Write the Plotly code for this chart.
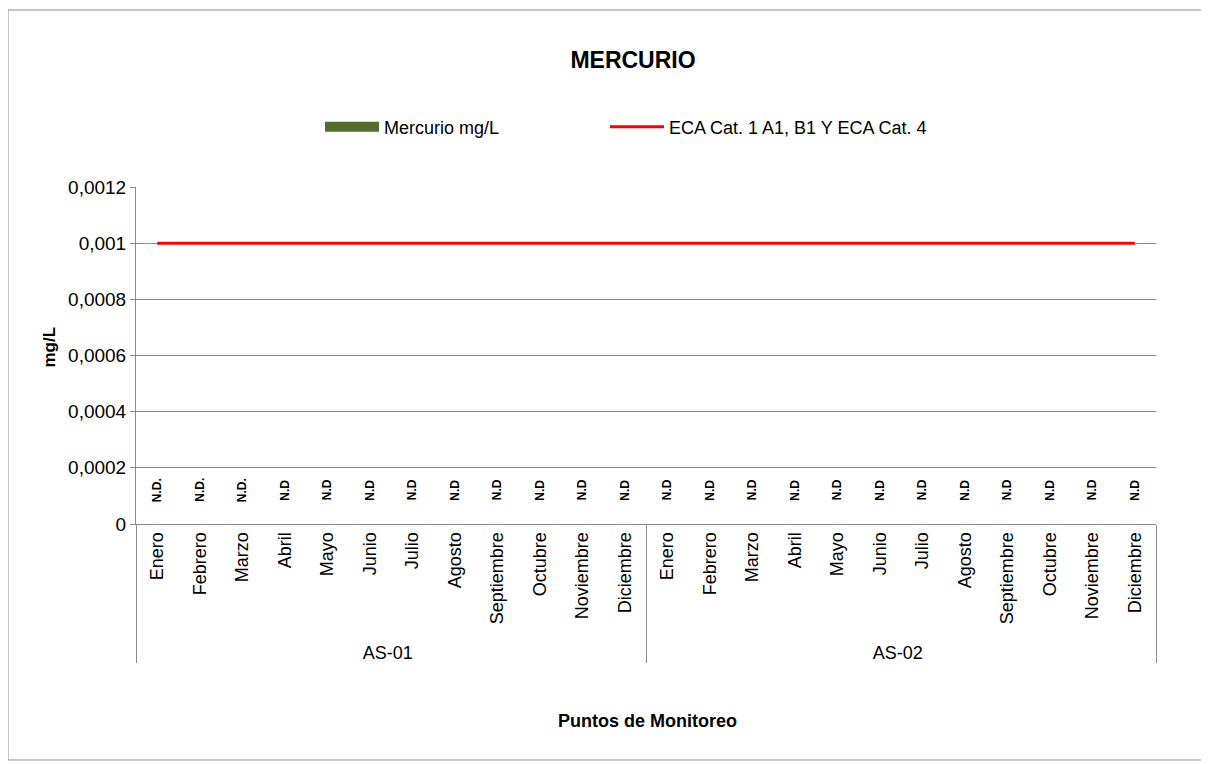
import plotly.graph_objects as go

months = ["Enero", "Febrero", "Marzo", "Abril", "Mayo", "Junio", "Julio", "Agosto",
          "Septiembre", "Octubre", "Noviembre", "Diciembre"]
points = ["AS-01", "AS-02"]
mercurio = [0] * 24
eca = [0.001] * 24
nd_labels = (["N.D."] * 3 + ["N.D"] * 9) + ["N.D"] * 12
y_ticks = [0, 0.0002, 0.0004, 0.0006, 0.0008, 0.001, 0.0012]
y_ticktext = ["0", "0,0002", "0,0004", "0,0006", "0,0008", "0,001", "0,0012"]

x_outer = [p for p in points for _ in months]
x_inner = [m for _ in points for m in months]

FONT = "Liberation Sans, Arial, sans-serif"
OFF = 8  # page body margin
W, H = 1209 - OFF, 765 - OFF
L, R, T, B = 136 - OFF, 1156 - OFF, 187 - OFF, 524 - OFF
pw, ph = R - L, B - T


def px(xpage):
    return (xpage - OFF - L) / pw


def py(ypage):
    return (B - (ypage - OFF)) / ph


fig = go.Figure()
fig.add_trace(go.Bar(x=[x_outer, x_inner], y=mercurio, name="Mercurio mg/L",
                     marker=dict(color="#4F6A2C", line=dict(width=0)), showlegend=False))
# legend proxy for the bar series (wide green swatch as in the original)
fig.add_trace(go.Scatter(x=[None], y=[None], mode="lines", name="Mercurio mg/L",
                         line=dict(color="#526E2E", width=10), legend="legend"))
fig.add_trace(go.Scatter(x=[x_outer, x_inner], y=eca, mode="lines",
                         name="ECA Cat. 1 A1, B1 Y ECA Cat. 4",
                         line=dict(color="#FF0000", width=3), legend="legend2"))

annotations = []
for i, lab in enumerate(nd_labels):
    annotations.append(dict(x=i, y=mercurio[i], xref="x", yref="y", text="<b>%s</b>" % lab,
                            textangle=-90, showarrow=False, yshift=34,
                            font=dict(family=FONT, size=12, color="black")))
annotations.append(dict(x=px(647), y=py(733), xref="paper", yref="paper",
                        text="<b>Puntos de Monitoreo</b>", showarrow=False,
                        font=dict(family=FONT, size=18, color="black")))
annotations.append(dict(x=px(37), y=py(347), xref="paper", yref="paper",
                        text="<b>mg/L</b>", textangle=-90, showarrow=False,
                        font=dict(family=FONT, size=17, color="black")))

legend_common = dict(orientation="h", xanchor="left", yanchor="middle", y=py(127),
                     font=dict(family=FONT, size=18, color="black"), itemwidth=54,
                     bgcolor="rgba(0,0,0,0)")

fig.update_layout(
    width=W, height=H,
    margin=dict(l=L, r=W - R, t=T, b=H - B),
    paper_bgcolor="white", plot_bgcolor="white",
    title=dict(text="<b>MERCURIO</b>", x=(633 - OFF) / W, xanchor="center",
               y=1 - (60 - OFF) / H, yanchor="middle",
               font=dict(family=FONT, size=23, color="black")),
    showlegend=True,
    legend=dict(x=px(320), **legend_common),
    legend2=dict(x=px(605), **legend_common),
    annotations=annotations,
    bargap=0.3,
    shapes=[dict(type="rect", xref="paper", yref="paper",
                 x0=px(8), x1=px(1208), y0=py(760), y1=py(10),
                 line=dict(color="#8C8C8C", width=1), fillcolor="rgba(0,0,0,0)", layer="below")],
)
fig.update_xaxes(type="multicategory", tickangle=-90, showline=True, linecolor="#8C8C8C",
                 linewidth=1, ticks="", showgrid=False, showdividers=True,
                 dividercolor="#8C8C8C", dividerwidth=1,
                 tickfont=dict(family=FONT, size=18, color="black"))
fig.update_yaxes(range=[0, 0.0012], tickvals=y_ticks, ticktext=y_ticktext,
                 showgrid=True, gridcolor="#8C8C8C", gridwidth=1, showline=True,
                 linecolor="#8C8C8C", ticks="outside", ticklen=5, tickcolor="#8C8C8C",
                 zeroline=False, tickfont=dict(family=FONT, size=19, color="black"))

fig.write_html("out.html")
